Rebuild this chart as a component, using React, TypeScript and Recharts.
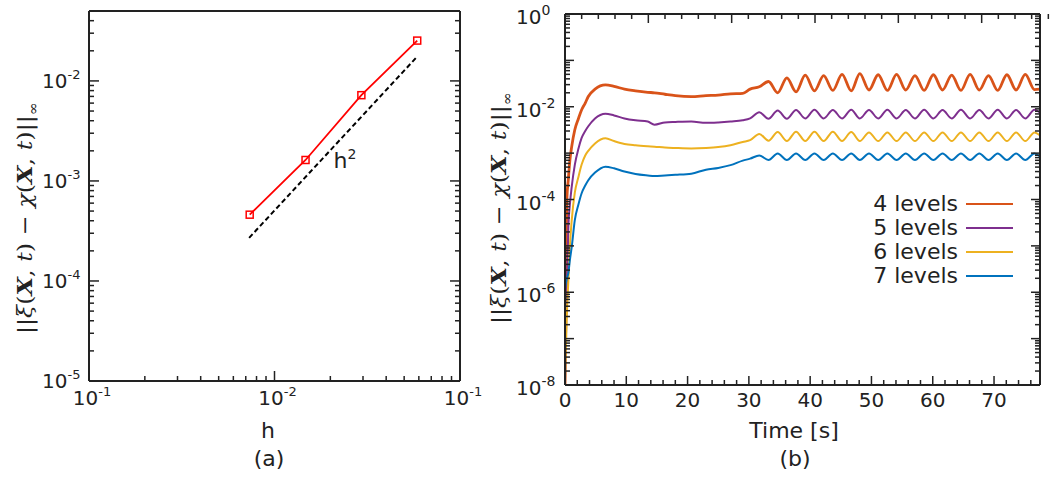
import React from "react";
import { LineChart, Line, XAxis, YAxis, Legend } from "recharts";

const INK = "#222222";
const FONT = "'DejaVu Sans', sans-serif";

// ---- panel (a): convergence ----
const hValues = [0.00735, 0.0147, 0.0294, 0.0588];
const errValues = [4.6e-4, 1.62e-3, 7.2e-3, 2.53e-2];
const slopeH = [0.0073, 0.0586];
const slopeErr = [2.7e-4, 1.74e-2];
const aXMajor = [1e-3, 1e-2, 1e-1];
const aXExp = ["-1", "-2", "-1"]; // printed like this in the figure
const aYMajor = [1e-5, 1e-4, 1e-3, 1e-2];
const aYExp = ["-5", "-4", "-3", "-2"];

// ---- panel (b): error vs time ----
const time = [
  0, 0.15, 0.3, 0.55, 0.8, 1.1, 1.6, 2.2, 2.7, 3.3, 3.8, 4.9, 6.6, 8, 9.7, 11.5, 13.5, 14.6, 16.3, 18,
  20.6, 23, 25, 27, 29, 30.2, 31.7, 33.2, 34.7, 36.2, 37.7, 39.2, 40.7, 42.2, 43.7, 45.2, 46.7, 48.1,
  49.6, 51.1, 52.6, 54.1, 55.6, 57.1, 58.6, 60.1, 61.6, 63.1, 64.6, 66.1, 67.6, 69.1, 70.6, 72.1, 73.6,
  75.1, 76.6, 77.5,
];
const levels4 = [
  1e-8, 3.2e-6, 1e-4, 2.8e-4, 7.1e-4, 1.4e-3, 3.2e-3, 5.6e-3, 8.5e-3, 1.2e-2, 1.66e-2, 2.4e-2, 2.95e-2,
  2.75e-2, 2.4e-2, 2.2e-2, 2.05e-2, 2.0e-2, 1.86e-2, 1.74e-2, 1.66e-2, 1.74e-2, 1.78e-2, 1.9e-2, 1.95e-2,
  2.4e-2, 2.7e-2, 3.5e-2, 2.0e-2, 4.2e-2, 2.1e-2, 4.8e-2, 2.2e-2, 4.7e-2, 2.25e-2, 5.0e-2, 2.2e-2, 5.2e-2,
  2.3e-2, 4.9e-2, 2.25e-2, 5.0e-2, 2.3e-2, 4.7e-2, 2.25e-2, 4.9e-2, 2.3e-2, 4.8e-2, 2.25e-2, 5.0e-2,
  2.3e-2, 4.7e-2, 2.25e-2, 4.9e-2, 2.3e-2, 5.0e-2, 2.35e-2, 2.4e-2,
];
const levels5 = [
  1e-8, 1e-7, 1e-6, 2.6e-5, 7.9e-5, 1.9e-4, 5.6e-4, 1.26e-3, 2.1e-3, 3.0e-3, 3.8e-3, 5.6e-3, 7.1e-3,
  6.5e-3, 5.6e-3, 5.1e-3, 4.8e-3, 4.1e-3, 4.6e-3, 4.7e-3, 4.8e-3, 4.5e-3, 4.6e-3, 4.8e-3, 5.1e-3, 5.6e-3,
  7.6e-3, 5.5e-3, 8.3e-3, 5.5e-3, 8.5e-3, 5.6e-3, 8.6e-3, 5.6e-3, 8.5e-3, 5.6e-3, 8.6e-3, 5.6e-3, 8.5e-3,
  5.6e-3, 8.6e-3, 5.6e-3, 8.5e-3, 5.6e-3, 8.6e-3, 5.6e-3, 8.5e-3, 5.6e-3, 8.6e-3, 5.6e-3, 8.5e-3, 5.6e-3,
  8.6e-3, 5.6e-3, 8.5e-3, 5.6e-3, 8.6e-3, 7.4e-3,
];
const levels6 = [
  1e-8, 6.3e-8, 3.2e-7, 1.8e-6, 1e-5, 3.6e-5, 1.4e-4, 3.1e-4, 5.6e-4, 8.9e-4, 1.12e-3, 1.62e-3, 2.1e-3,
  1.82e-3, 1.58e-3, 1.48e-3, 1.41e-3, 1.38e-3, 1.32e-3, 1.29e-3, 1.26e-3, 1.29e-3, 1.35e-3, 1.48e-3,
  1.74e-3, 1.9e-3, 2.6e-3, 1.86e-3, 2.85e-3, 1.82e-3, 2.9e-3, 1.82e-3, 2.9e-3, 1.82e-3, 2.9e-3, 1.82e-3,
  2.85e-3, 1.82e-3, 2.8e-3, 1.82e-3, 2.8e-3, 1.82e-3, 2.8e-3, 1.82e-3, 2.8e-3, 1.82e-3, 2.8e-3, 1.82e-3,
  2.8e-3, 1.82e-3, 2.8e-3, 1.82e-3, 2.8e-3, 1.82e-3, 2.8e-3, 1.82e-3, 2.8e-3, 2.4e-3,
];
const levels7 = [
  1.2e-6, 1.6e-6, 2e-6, 2.6e-6, 5e-6, 9.5e-6, 3.6e-5, 7.9e-5, 1.35e-4, 2.0e-4, 2.6e-4, 3.8e-4, 5.1e-4,
  4.7e-4, 4.0e-4, 3.55e-4, 3.3e-4, 3.2e-4, 3.3e-4, 3.4e-4, 3.6e-4, 4.4e-4, 4.8e-4, 5.5e-4, 6.9e-4, 7.6e-4,
  8.9e-4, 7.1e-4, 9.8e-4, 7.1e-4, 9.8e-4, 7.1e-4, 9.8e-4, 7.1e-4, 9.8e-4, 7.1e-4, 9.8e-4, 7.1e-4, 9.8e-4,
  7.1e-4, 9.8e-4, 7.1e-4, 9.8e-4, 7.1e-4, 9.8e-4, 7.1e-4, 9.8e-4, 7.1e-4, 9.8e-4, 7.1e-4, 9.8e-4, 7.1e-4,
  9.8e-4, 7.1e-4, 9.8e-4, 7.1e-4, 9.8e-4, 8.5e-4,
];
const seriesNames = ["4 levels", "5 levels", "6 levels", "7 levels"];
const seriesColors = ["#D95319", "#7E2F8E", "#EDB120", "#0072BD"];
const bXMajor = [0, 10, 20, 30, 40, 50, 60, 70];
const bXLabels = ["0", "10", "20", "30", "40", "50", "60", "70"];
const bYMajor = [1, 1e-2, 1e-4, 1e-6, 1e-8];
const bYExp = ["0", "-2", "-4", "-6", "-8"];

const convRows = hValues.map((h, i) => ({ h, err: errValues[i] }));
const slopeRows = slopeH.map((h, i) => ({ h, err: slopeErr[i] }));
const timeRows = time.map((t, i) => ({
  t,
  l4: levels4[i],
  l5: levels5[i],
  l6: levels6[i],
  l7: levels7[i],
}));

// log ticks: every 1..9 x 10^e
const logTicks = (from: number, to: number, max: number) => {
  const out: number[] = [];
  for (let e = from; e < to; e++)
    for (let m = 1; m < 10; m++) out.push(Number((m * Math.pow(10, e)).toPrecision(3)));
  out.push(Number(Math.pow(10, to).toPrecision(3)));
  return out.filter((v) => v <= max * 1.0001);
};
const near = (a: number, b: number) => Math.abs(a / b - 1) < 1e-6;
const isDecade = (v: number) => Math.abs(Math.log10(v) - Math.round(Math.log10(v))) < 1e-6;

const aXTicks = logTicks(-3, -1, 0.1);
const aYTicks = logTicks(-5, -1, 0.05);
const bYTicks = logTicks(-8, 0, 1);
const bXTicks: number[] = [];
for (let t = 0; t <= 76; t += 2) bXTicks.push(t);

type TickCfg = {
  side: "bottom" | "top" | "left" | "right";
  isLong: (v: number) => boolean;
  longLen: number;
  shortLen: number;
  label?: (v: number) => [string, string] | null;
  dx?: number;
  dy?: number;
  anchor?: "start" | "middle" | "end";
  size?: number;
  supSize?: number;
};

const renderTick = (p: any, c: TickCfg) => {
  const { x, y, payload } = p;
  const v = payload.value;
  const len = c.isLong(v) ? c.longLen : c.shortLen;
  let x2 = x;
  let y2 = y;
  if (c.side === "bottom") y2 = y - len;
  if (c.side === "top") y2 = y + len;
  if (c.side === "left") x2 = x + len;
  if (c.side === "right") x2 = x - len;
  const lab = c.label ? c.label(v) : null;
  return (
    <g>
      <line x1={x} y1={y} x2={x2} y2={y2} stroke={INK} strokeWidth={1.5} />
      {lab && (
        <text
          x={x + (c.dx || 0)}
          y={y + (c.dy || 0)}
          textAnchor={c.anchor || "middle"}
          fill={INK}
          fontFamily={FONT}
          fontSize={c.size || 20}
        >
          <tspan>{lab[0]}</tspan>
          {lab[1] && (
            <tspan fontSize={c.supSize || 13} dy={-9}>
              {lab[1]}
            </tspan>
          )}
        </text>
      )}
    </g>
  );
};

const expLabel = (majors: number[], exps: string[]) => (v: number): [string, string] | null => {
  const i = majors.findIndex((m) => near(m, v));
  return i >= 0 ? ["10", exps[i]] : null;
};

const axisLine = { stroke: INK, strokeWidth: 2 };

const NormTitle = ({ x, y }: { x: number; y: number }) => (
  <text
    transform={`translate(${x} ${y}) rotate(-90)`}
    textAnchor="middle"
    fontFamily="'DejaVu Serif', serif"
    fontSize={21}
    fill={INK}
    textLength={232}
    lengthAdjust="spacingAndGlyphs"
  >
    <tspan>||</tspan>
    <tspan fontStyle="italic">ξ</tspan>
    <tspan>(</tspan>
    <tspan fontWeight="bold" fontStyle="italic">X</tspan>
    <tspan>, </tspan>
    <tspan fontStyle="italic">t</tspan>
    <tspan>) − </tspan>
    <tspan fontStyle="italic">χ</tspan>
    <tspan>(</tspan>
    <tspan fontWeight="bold" fontStyle="italic">X</tspan>
    <tspan>, </tspan>
    <tspan fontStyle="italic">t</tspan>
    <tspan>)||</tspan>
    <tspan fontSize={14} dy={6}>
      ∞
    </tspan>
  </text>
);

const LevelLegend = ({ payload }: any) => (
  <div style={{ fontFamily: FONT, color: INK }}>
    {(payload || []).map((e: any) => (
      <div
        key={e.value}
        style={{ display: "flex", justifyContent: "flex-end", alignItems: "center", height: 24 }}
      >
        <span style={{ fontSize: 22, lineHeight: "24px" }}>{e.value}</span>
        <span style={{ display: "inline-block", width: 47, height: 2, background: e.color, marginLeft: 8 }} />
      </div>
    ))}
  </div>
);

const ConvergencePanel = () => (
  <LineChart width={1050} height={478} margin={{ top: 10, right: 588, bottom: 57, left: 0 }}>
    <XAxis
      xAxisId="b"
      dataKey="h"
      type="number"
      scale="log"
      domain={[1e-3, 1e-1]}
      allowDataOverflow
      ticks={aXTicks}
      interval={0}
      tickSize={0}
      tickMargin={0}
      tickLine={false}
      axisLine={axisLine}
      height={40}
      tick={(p: any) =>
        renderTick(p, {
          side: "bottom",
          isLong: isDecade,
          longLen: 10,
          shortLen: 5,
          label: expLabel(aXMajor, aXExp),
          dx: 3,
          dy: 24,
        })
      }
    />
    <XAxis
      xAxisId="t"
      orientation="top"
      type="number"
      scale="log"
      domain={[1e-3, 1e-1]}
      allowDataOverflow
      ticks={aXTicks}
      interval={0}
      tickSize={0}
      tickMargin={0}
      tickLine={false}
      axisLine={axisLine}
      height={1}
      tick={(p: any) => renderTick(p, { side: "top", isLong: isDecade, longLen: 10, shortLen: 5 })}
    />
    <YAxis
      yAxisId="l"
      type="number"
      scale="log"
      domain={[1e-5, 0.05]}
      allowDataOverflow
      ticks={aYTicks}
      interval={0}
      tickSize={0}
      tickMargin={0}
      tickLine={false}
      axisLine={axisLine}
      width={89}
      tick={(p: any) =>
        renderTick(p, {
          side: "left",
          isLong: isDecade,
          longLen: 10,
          shortLen: 5,
          label: expLabel(aYMajor, aYExp),
          dx: -47,
          dy: 7,
          anchor: "start",
        })
      }
    />
    <YAxis
      yAxisId="r"
      orientation="right"
      type="number"
      scale="log"
      domain={[1e-5, 0.05]}
      allowDataOverflow
      ticks={aYTicks}
      interval={0}
      tickSize={0}
      tickMargin={0}
      tickLine={false}
      axisLine={axisLine}
      width={2}
      tick={(p: any) => renderTick(p, { side: "right", isLong: isDecade, longLen: 10, shortLen: 5 })}
    />
    <Line
      xAxisId="b"
      yAxisId="l"
      data={slopeRows}
      dataKey="err"
      type="linear"
      stroke="#000000"
      strokeWidth={2}
      strokeDasharray="5 3"
      dot={false}
      isAnimationActive={false}
    />
    <Line
      xAxisId="b"
      yAxisId="l"
      data={convRows}
      dataKey="err"
      type="linear"
      stroke="#ff0000"
      strokeWidth={1.8}
      dot={(p: any) => (
        <rect
          key={`sq-${p.index}`}
          x={p.cx - 3.5}
          y={p.cy - 3.5}
          width={7}
          height={7}
          fill="none"
          stroke="#ff0000"
          strokeWidth={1.5}
        />
      )}
      isAnimationActive={false}
    />
  </LineChart>
);

const TimePanel = () => (
  <LineChart width={1050} height={478} data={timeRows} margin={{ top: 13, right: 8, bottom: 53, left: 0 }}>
    <XAxis
      xAxisId="b"
      dataKey="t"
      type="number"
      domain={[0, 77.5]}
      allowDataOverflow
      ticks={bXTicks}
      interval={0}
      tickSize={0}
      tickMargin={0}
      tickLine={false}
      axisLine={axisLine}
      height={40}
      tick={(p: any) =>
        renderTick(p, {
          side: "bottom",
          isLong: (v) => v % 10 === 0,
          longLen: 9,
          shortLen: 5,
          label: (v) => {
            const i = bXMajor.indexOf(v);
            return i >= 0 ? [bXLabels[i], ""] : null;
          },
          dy: 22,
        })
      }
    />
    <XAxis
      xAxisId="t"
      orientation="top"
      type="number"
      domain={[0, 77.5]}
      allowDataOverflow
      ticks={bXTicks}
      interval={0}
      tickSize={0}
      tickMargin={0}
      tickLine={false}
      axisLine={axisLine}
      height={1}
      tick={(p: any) => renderTick(p, { side: "top", isLong: (v) => v % 10 === 0, longLen: 9, shortLen: 5 })}
    />
    <YAxis
      yAxisId="l"
      type="number"
      scale="log"
      domain={[1e-8, 1]}
      allowDataOverflow
      ticks={bYTicks}
      interval={0}
      tickSize={0}
      tickMargin={0}
      tickLine={false}
      axisLine={axisLine}
      width={565}
      tick={(p: any) =>
        renderTick(p, {
          side: "left",
          isLong: isDecade,
          longLen: 9,
          shortLen: 5,
          label: expLabel(bYMajor, bYExp),
          dx: -49,
          dy: 10,
          anchor: "start",
          supSize: 14,
        })
      }
    />
    <YAxis
      yAxisId="r"
      orientation="right"
      type="number"
      scale="log"
      domain={[1e-8, 1]}
      allowDataOverflow
      ticks={bYTicks}
      interval={0}
      tickSize={0}
      tickMargin={0}
      tickLine={false}
      axisLine={axisLine}
      width={2}
      tick={(p: any) => renderTick(p, { side: "right", isLong: isDecade, longLen: 9, shortLen: 5 })}
    />
    {["l4", "l5", "l6", "l7"].map((k, i) => (
      <Line
        key={k}
        xAxisId="b"
        yAxisId="l"
        dataKey={k}
        name={seriesNames[i]}
        type="monotone"
        stroke={seriesColors[i]}
        strokeWidth={i === 0 ? 2.8 : 2}
        dot={false}
        isAnimationActive={false}
      />
    ))}
    <Legend
      layout="horizontal"
      verticalAlign="middle"
      align="center"
      wrapperStyle={{ position: "absolute", left: 813, top: 192, width: 200 }}
      content={(p: any) => <LevelLegend payload={p.payload} />}
    />
  </LineChart>
);

export default function App() {
  return (
    <div style={{ position: "absolute", left: 0, top: 0, width: 1050, height: 478, background: "#fff" }}>
      <div style={{ position: "absolute", left: 0, top: 0 }}>
        <ConvergencePanel />
      </div>
      <div style={{ position: "absolute", left: 0, top: 0 }}>
        <TimePanel />
      </div>
      <svg
        width={1050}
        height={478}
        style={{ position: "absolute", left: 0, top: 0, pointerEvents: "none" }}
      >
        <NormTitle x={32} y={218} />
        <NormTitle x={506} y={208} />
        <text x={345} y={168} textAnchor="middle" fontFamily={FONT} fontSize={22} fill={INK}>
          h<tspan fontSize={14} dy={-9}>2</tspan>
        </text>
        <g fontFamily={FONT} fontSize={22} fill={INK} textAnchor="middle">
          <text x={268} y={438}>h</text>
          <text x={269} y={466}>(a)</text>
          <text x={794} y={438}>Time [s]</text>
          <text x={795} y={466}>(b)</text>
        </g>
      </svg>
    </div>
  );
}
